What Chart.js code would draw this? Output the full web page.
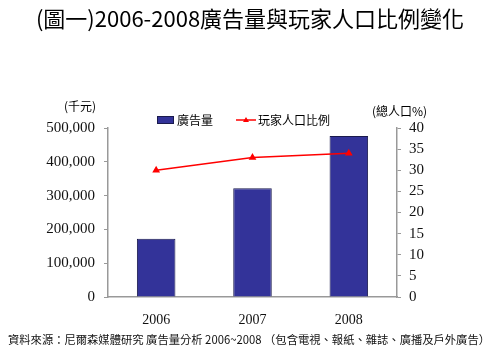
<!DOCTYPE html>
<html>
<head>
<meta charset="utf-8">
<script src="https://cdn.jsdelivr.net/npm/chart.js@4"></script>
<style>
  html, body { margin: 0; padding: 0; background: #fff; }
  #wrap { width: 500px; height: 354px; position: relative; }
</style>
</head>
<body>
<div id="wrap"><canvas id="chart" width="500" height="354"></canvas></div>
<script>
// data
const years = ["2006", "2007", "2008"];
const adVolume = [172000, 322000, 476000];     // 千元
const playerRatio = [30, 33, 34];              // 總人口%
const leftTicks = [0, 100000, 200000, 300000, 400000, 500000];
const rightTicks = [0, 5, 10, 15, 20, 25, 30, 35, 40];

const BAR_COLOR = "#333399";
const LINE_COLOR = "#ff0000";
const AXIS_COLOR = "#999";
const CJK = "'Noto Sans CJK TC', 'Noto Sans', sans-serif";
const SERIF = "'Liberation Serif', 'DejaVu Serif', serif";

// title, unit labels, legend and source note
const textPlugin = {
  id: "texts",
  afterDraw(chart) {
    const ctx = chart.ctx;
    ctx.save();
    ctx.fillStyle = "#000";
    ctx.textBaseline = "middle";

    ctx.font = "22px " + CJK;
    ctx.textAlign = "center";
    ctx.fillText("(圖一)2006-2008廣告量與玩家人口比例變化", 250, 19, 436);

    ctx.font = "12px " + CJK;
    ctx.textAlign = "right";
    ctx.fillText("(千元)", 96, 106);
    ctx.textAlign = "left";
    ctx.fillText("(總人口%)", 372, 111);

    // legend
    ctx.fillStyle = BAR_COLOR;
    ctx.fillRect(157, 116, 16, 7);
    ctx.strokeStyle = "#1a1a4d";
    ctx.lineWidth = 1;
    ctx.strokeRect(157.5, 116.5, 16, 7);
    ctx.fillStyle = "#000";
    ctx.fillText("廣告量", 177, 120);

    ctx.strokeStyle = LINE_COLOR;
    ctx.lineWidth = 1.5;
    ctx.beginPath();
    ctx.moveTo(236, 120);
    ctx.lineTo(256, 120);
    ctx.stroke();
    ctx.fillStyle = LINE_COLOR;
    ctx.beginPath();
    ctx.moveTo(246, 117);
    ctx.lineTo(249, 122);
    ctx.lineTo(243, 122);
    ctx.closePath();
    ctx.fill();
    ctx.fillStyle = "#000";
    ctx.fillText("玩家人口比例", 258, 120);

    ctx.font = "11.5px " + CJK;
    ctx.fillStyle = "#111";
    ctx.fillText("資料來源：尼爾森媒體研究 廣告量分析 2006~2008 （包含電視、報紙、雜誌、廣播及戶外廣告）", 8, 340, 482);
    ctx.restore();
  }
};

new Chart(document.getElementById("chart"), {
  type: "bar",
  data: {
    labels: years,
    datasets: [
      {
        type: "line",
        label: "玩家人口比例",
        data: playerRatio,
        yAxisID: "yRight",
        borderColor: LINE_COLOR,
        backgroundColor: LINE_COLOR,
        borderWidth: 1.5,
        pointStyle: "triangle",
        pointRadius: 3,
        tension: 0,
        order: 0
      },
      {
        label: "廣告量",
        data: adVolume,
        yAxisID: "yLeft",
        backgroundColor: BAR_COLOR,
        borderColor: "#1a1a4d",
        borderWidth: 1,
        categoryPercentage: 1,
        barPercentage: 0.4,
        order: 1
      }
    ]
  },
  options: {
    responsive: false,
    animation: false,
    layout: { padding: { top: 128, left: 0, right: 0, bottom: 0 } },
    plugins: { legend: { display: false }, tooltip: { enabled: false } },
    scales: {
      x: {
        grid: { display: false },
        border: { color: AXIS_COLOR, width: 1.5 },
        ticks: { color: "#111", font: { family: SERIF, size: 14 }, padding: 7 },
        afterFit(s) { s.height = 57; }
      },
      yLeft: {
        position: "left",
        min: 0,
        max: 500000,
        grid: { drawOnChartArea: false, tickLength: 4, color: AXIS_COLOR },
        border: { color: AXIS_COLOR, width: 1.5 },
        afterBuildTicks(s) { s.ticks = leftTicks.map(v => ({ value: v })); },
        ticks: {
          color: "#111",
          font: { family: SERIF, size: 15 },
          padding: 9,
          callback: v => v.toLocaleString("en-US")
        },
        afterFit(s) { s.width = 108; }
      },
      yRight: {
        position: "right",
        min: 0,
        max: 40,
        grid: { drawOnChartArea: false, tickLength: 4, color: AXIS_COLOR },
        border: { color: AXIS_COLOR, width: 1.5 },
        afterBuildTicks(s) { s.ticks = rightTicks.map(v => ({ value: v })); },
        ticks: { color: "#111", font: { family: SERIF, size: 15 }, padding: 8 },
        afterFit(s) { s.width = 103; }
      }
    }
  },
  plugins: [textPlugin]
});
</script>
</body>
</html>
